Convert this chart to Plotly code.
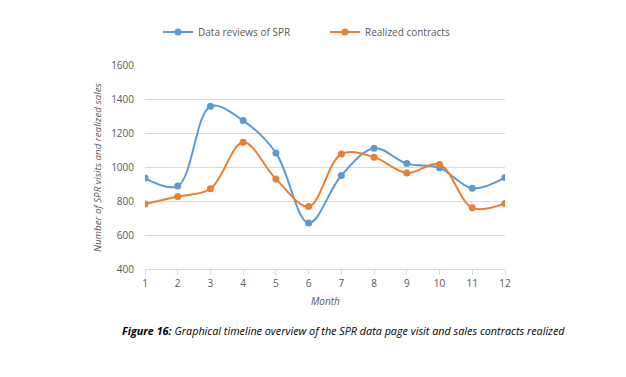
import plotly.graph_objects as go

months = [1, 2, 3, 4, 5, 6, 7, 8, 9, 10, 11, 12]
spr_reviews = [935, 888, 1357, 1273, 1083, 670, 950, 1110, 1020, 995, 875, 938]
contracts = [782, 826, 872, 1146, 930, 768, 1076, 1058, 965, 1015, 760, 785]
y_ticks = [400, 600, 800, 1000, 1200, 1400, 1600]

BLUE = "#5B9BD5"
ORANGE = "#ED7D31"
GRAY = "#595959"
FONT = "Open Sans"

W, H = 626, 377
L, R, T, B = 145, 121, 65, 108
pw = W - L - R
ph = H - T - B


def px_x(x):
    return (x - L) / pw


def px_y(y):
    return (H - B - y) / ph


fig = go.Figure()
fig.add_trace(go.Scatter(x=months, y=spr_reviews, name="Data reviews of SPR",
                         mode="lines+markers", legend="legend",
                         line=dict(color=BLUE, width=2, shape="spline", smoothing=1.0),
                         marker=dict(color=BLUE, size=7)))
fig.add_trace(go.Scatter(x=months, y=contracts, name="Realized contracts",
                         mode="lines+markers", legend="legend2",
                         line=dict(color=ORANGE, width=2, shape="spline", smoothing=1.0),
                         marker=dict(color=ORANGE, size=7)))

legend_common = dict(yanchor="middle", xanchor="left", font=dict(size=10, color=GRAY),
                     bgcolor="rgba(0,0,0,0)", itemwidth=30)

fig.update_layout(
    width=W, height=H,
    margin=dict(l=L, r=R, t=T, b=B, autoexpand=False),
    paper_bgcolor="white", plot_bgcolor="white",
    font=dict(family=FONT, size=10, color=GRAY),
    showlegend=True,
    legend=dict(x=px_x(158), y=px_y(32), **legend_common),
    legend2=dict(x=px_x(325), y=px_y(32), **legend_common),
    xaxis=dict(range=[1, 12], tickvals=months, showgrid=False, showline=True,
               linecolor="#D9D9D9", ticks="outside", ticklen=5, tickcolor="#D9D9D9",
               tickfont=dict(size=10, color=GRAY), zeroline=False),
    yaxis=dict(range=[400, 1600], tickvals=y_ticks, showgrid=True, gridcolor="#D9D9D9",
               showline=False, zeroline=False, tickfont=dict(size=10, color=GRAY), ticks="",
               ticklabelstandoff=10),
    annotations=[
        dict(text="<i>Month</i>", x=0.5, y=px_y(301), xref="paper", yref="paper",
             showarrow=False, xanchor="center", yanchor="middle", font=dict(size=10, color=GRAY)),
        dict(text="<i>Number of SPR visits and realized sales</i>", x=px_x(97), y=0.5,
             xref="paper", yref="paper", showarrow=False, textangle=-90,
             xanchor="center", yanchor="middle",
             font=dict(size=9.8, color=GRAY)),
        dict(text="<b><i>Figure 16:</i></b><i> Graphical timeline overview of the SPR data page visit and sales contracts realized</i>",
             x=px_x(343), y=px_y(330), xref="paper", yref="paper", showarrow=False,
             xanchor="center", yanchor="middle",
             font=dict(size=10.8, color="black", family=FONT)),
    ],
)

fig.write_html("out.html", config={"displayModeBar": False},
               post_script="document.body.style.margin='0px';document.body.style.overflow='hidden';")
